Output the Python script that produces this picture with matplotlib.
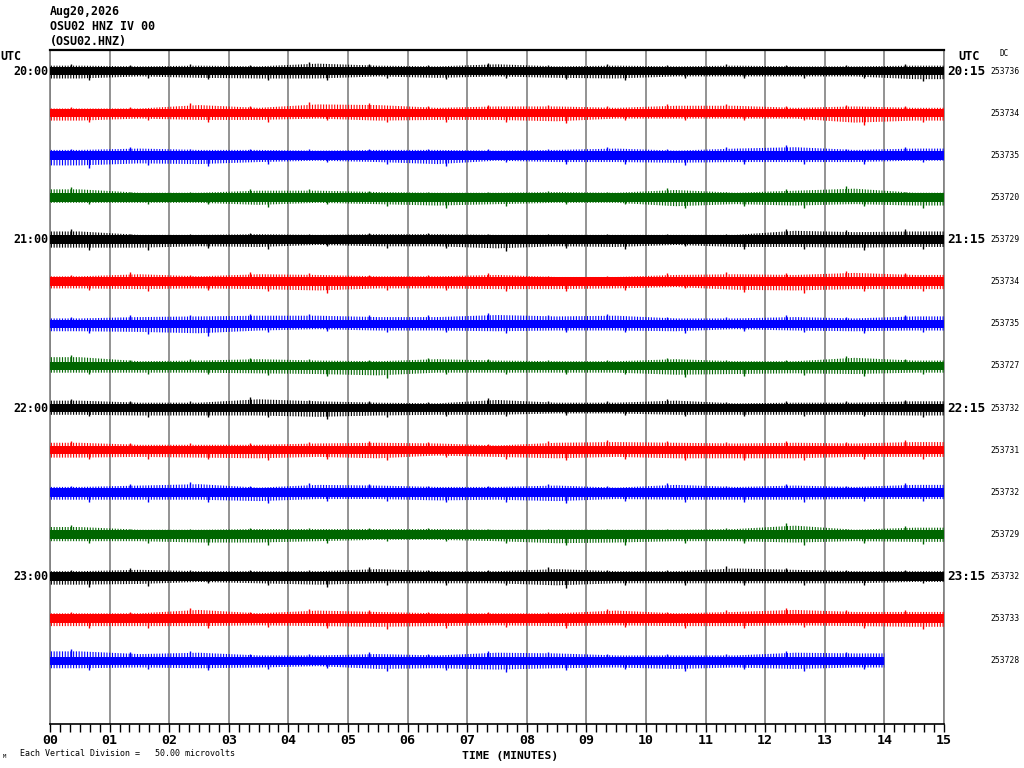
import matplotlib
matplotlib.use("Agg")
import matplotlib.pyplot as plt
import numpy as np

# ---------------- data ----------------
header_lines = ["Aug20,2026", "OSU02 HNZ IV 00", "(OSU02.HNZ)"]
minute_labels = ["00", "01", "02", "03", "04", "05", "06", "07", "08", "09",
                 "10", "11", "12", "13", "14", "15"]
left_labels = ["20:00", "", "", "", "21:00", "", "", "", "22:00", "", "", "",
               "23:00", "", ""]
right_labels = ["20:15", "", "", "", "21:15", "", "", "", "22:15", "", "", "",
                "23:15", "", ""]
dc_values = [253736, 253734, 253735, 253720, 253729, 253734, 253735, 253727,
             253732, 253731, 253732, 253729, 253732, 253733, 253728]
row_colors = ["black", "#ff0000", "#0000ff", "#006600"] * 4
row_minutes = [15] * 14 + [14]          # last row ends at minute 14
core_uv = 5.0                            # dense noise half-width (microvolts)
uv_per_division = 50.0

# peak amplitude (microvolts) per minute, up and down from the trace centre
peak_up = [
    [8, 7, 8, 7, 11, 8, 7, 10, 7, 8, 7, 8, 7, 7, 8],
    [7, 7, 12, 8, 13, 12, 8, 10, 10, 8, 11, 11, 8, 10, 8],
    [8, 10, 8, 8, 7, 8, 8, 7, 8, 10, 7, 10, 12, 8, 10],
    [12, 7, 7, 10, 10, 8, 7, 7, 8, 7, 11, 7, 10, 13, 7],
    [12, 7, 7, 8, 7, 8, 8, 7, 7, 7, 7, 7, 13, 11, 12],
    [8, 11, 8, 11, 10, 8, 8, 10, 7, 7, 10, 11, 10, 13, 10],
    [8, 10, 11, 12, 12, 10, 10, 13, 11, 12, 8, 8, 10, 8, 11],
    [13, 7, 8, 10, 8, 7, 10, 8, 7, 7, 10, 7, 7, 12, 8],
    [11, 8, 8, 13, 10, 8, 7, 12, 8, 8, 11, 7, 8, 8, 10],
    [11, 8, 8, 8, 10, 11, 10, 7, 11, 12, 11, 10, 11, 10, 12],
    [8, 10, 12, 7, 11, 10, 8, 8, 10, 7, 11, 8, 10, 8, 11],
    [11, 7, 7, 8, 8, 8, 8, 7, 7, 7, 7, 8, 13, 7, 10],
    [8, 10, 8, 8, 8, 11, 8, 8, 11, 8, 8, 12, 10, 8, 8],
    [8, 8, 13, 8, 12, 10, 8, 8, 8, 12, 8, 10, 13, 10, 10],
    [14, 10, 12, 8, 8, 10, 8, 12, 11, 8, 8, 8, 12, 11],
]
peak_down = [
    [11, 8, 10, 11, 11, 8, 10, 8, 10, 11, 8, 8, 8, 8, 12],
    [11, 8, 10, 10, 8, 11, 10, 10, 12, 8, 8, 8, 8, 14, 11],
    [15, 12, 13, 10, 8, 10, 13, 8, 10, 10, 11, 10, 10, 10, 8],
    [8, 8, 8, 11, 8, 10, 12, 10, 8, 8, 13, 10, 12, 10, 12],
    [12, 12, 10, 11, 8, 10, 10, 13, 10, 11, 8, 11, 11, 12, 11],
    [10, 11, 10, 11, 13, 10, 10, 11, 11, 10, 8, 12, 13, 11, 11],
    [11, 12, 14, 10, 8, 10, 10, 11, 10, 10, 11, 8, 10, 11, 10],
    [10, 10, 10, 11, 12, 14, 10, 10, 10, 10, 13, 12, 11, 12, 10],
    [10, 11, 11, 11, 13, 11, 10, 10, 8, 8, 10, 10, 10, 10, 11],
    [11, 10, 11, 12, 10, 12, 8, 10, 12, 10, 12, 12, 12, 10, 10],
    [11, 11, 11, 13, 10, 10, 12, 11, 13, 10, 11, 11, 11, 10, 10],
    [10, 10, 12, 12, 10, 8, 8, 10, 13, 12, 10, 10, 12, 10, 11],
    [12, 11, 8, 10, 12, 10, 10, 10, 13, 10, 10, 10, 10, 10, 8],
    [11, 11, 11, 10, 11, 12, 11, 10, 11, 10, 11, 11, 10, 11, 12],
    [11, 10, 11, 10, 8, 12, 11, 13, 11, 10, 12, 10, 12, 10],
]

# ---------------- figure ----------------
plt.rcParams["hatch.linewidth"] = 0.8
W, H = 1024, 768
fig = plt.figure(figsize=(W / 100, H / 100), dpi=100)
fig.patch.set_facecolor("white")

ax_left, ax_right, ax_top, ax_bot = 50, 944, 50, 724
ax = fig.add_axes([ax_left / W, 1 - ax_bot / H,
                   (ax_right - ax_left) / W, (ax_bot - ax_top) / H])

n_rows = len(dc_values)
ax.set_xlim(0, 15)
ax.set_ylim(n_rows + 0.5, -0.5)

mono = "DejaVu Sans Mono"

for i in range(n_rows):
    c = row_colors[i]
    nm = row_minutes[i]
    core = core_uv / uv_per_division
    up = np.array(peak_up[i]) / uv_per_division
    dn = np.array(peak_down[i]) / uv_per_division
    m = np.arange(nm)
    # solid core of the noise
    ax.fill_between([0, nm], i - core, i + core, color=c, lw=0, zorder=3)
    # hairy envelope towards the per-minute peaks
    xs = np.concatenate(([0], m + 0.5, [nm]))
    ups = np.concatenate(([up[0]], up, [up[-1]]))
    dns = np.concatenate(([dn[0]], dn, [dn[-1]]))
    ax.fill_between(xs, i - ups * 0.8, i + dns * 0.8, facecolor="none",
                    edgecolor=c, hatch="||||||", lw=0, zorder=3)
    # the biggest spikes of each minute
    ax.vlines(m + 0.35, i, i - up, color=c, lw=1.0, zorder=3)
    ax.vlines(m + 0.65, i, i + dn, color=c, lw=1.0, zorder=3)

# grid lines each minute
ax.set_xticks(range(16))
ax.set_xticklabels(minute_labels, fontfamily=mono, fontweight="bold",
                   fontsize=9.5)
ax.set_xticks(np.arange(0, 15.001, 1 / 6), minor=True)
ax.tick_params(axis="x", which="both", direction="out", length=6, width=1,
               color="black", pad=1.5)
ax.set_yticks([])
ax.grid(axis="x", which="major", color="#808080", lw=1.2, zorder=1)
for s in ["left", "right"]:
    ax.spines[s].set_visible(False)
ax.spines["top"].set_linewidth(1.6)
ax.spines["bottom"].set_linewidth(1.2)

ax.axvline(15, color="#808080", lw=1.2, clip_on=False, zorder=1)
ax.axvline(0, color="#808080", lw=1.2, clip_on=False, zorder=1)


def ftext(x, y, s, **kw):
    fig.text(x / W, 1 - y / H, s, **kw)


for k, line in enumerate(header_lines):
    ftext(50, 11 + 15 * k, line, fontfamily=mono, fontweight="bold",
          fontsize=8.4, va="center", ha="left")

ftext(0, 56, "UTC", fontfamily=mono, fontweight="bold", fontsize=8.4,
      va="center", ha="left")
ftext(958, 56, "UTC", fontfamily=mono, fontweight="bold", fontsize=8.6,
      va="center", ha="left")
ftext(1000, 53, "DC", fontfamily=mono, fontsize=5.5, va="center", ha="left")
ftext(510, 756, "TIME (MINUTES)", fontfamily=mono, fontweight="bold",
      fontsize=8.2, va="center", ha="center")

for i in range(n_rows):
    if left_labels[i]:
        ax.annotate(left_labels[i], xy=(48, i), xycoords=("figure pixels", "data"),
                    ha="right", va="center", fontfamily=mono,
                    fontweight="bold", fontsize=8.4, annotation_clip=False)
    if right_labels[i]:
        ax.annotate(right_labels[i], xy=(947, i),
                    xycoords=("figure pixels", "data"),
                    ha="left", va="center", fontfamily=mono,
                    fontweight="bold", fontsize=9.2, annotation_clip=False)
    ax.annotate(str(dc_values[i]), xy=(990, i),
                xycoords=("figure pixels", "data"),
                ha="left", va="center", fontfamily=mono, fontsize=5.8,
                annotation_clip=False)

ftext(20, 754, "Each Vertical Division =   50.00 microvolts",
      fontfamily=mono, fontsize=6.0, va="center", ha="left")
ftext(3, 757, "M", fontfamily=mono, fontsize=4, va="center", ha="left")

fig.savefig("out.png", dpi=100, facecolor="white")
